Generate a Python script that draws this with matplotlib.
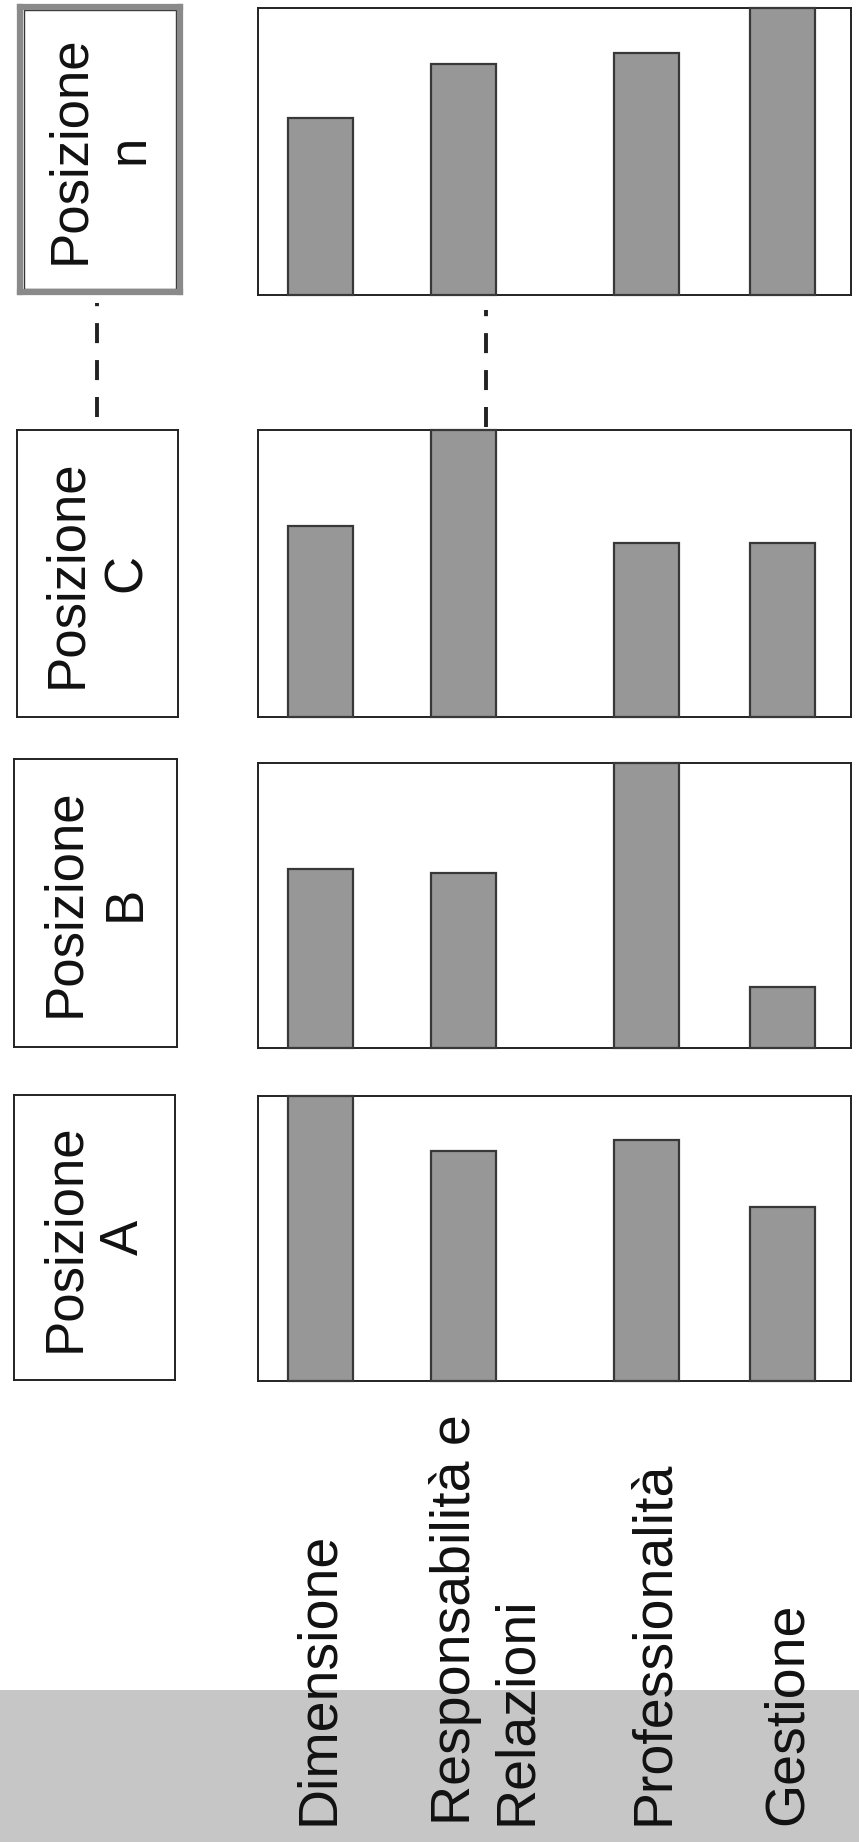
import matplotlib
matplotlib.use("Agg")
import matplotlib.pyplot as plt
from matplotlib.patches import Rectangle
from matplotlib.lines import Line2D

# ---------------- data ----------------
categories = ["Dimensione", "Responsabilità e\nRelazioni", "Professionalità", "Gestione"]
positions = ["Posizione\nA", "Posizione\nB", "Posizione\nC", "Posizione\nn"]
values_A = [1.00, 0.806, 0.845, 0.61]
values_B = [0.628, 0.614, 1.00, 0.214]
values_C = [0.665, 1.00, 0.606, 0.606]
values_n = [0.617, 0.805, 0.843, 1.00]
all_values = [values_A, values_B, values_C, values_n]

# ---------------- layout (pixels, from top-left) ----------------
W, H = 859, 1842
DPI = 100
plt.rcParams['font.family'] = ['Liberation Sans', 'DejaVu Sans']
plt.rcParams['lines.scale_dashes'] = False

fig = plt.figure(figsize=(W / DPI, H / DPI), dpi=DPI)
fig.patch.set_facecolor('white')


def fx(x):
    return x / W


def fy(y):
    return 1 - y / H


def add_ax(x0, y0, x1, y1, **kw):
    return fig.add_axes([fx(x0), fy(y1), (x1 - x0) / W, (y1 - y0) / H], **kw)


# panel rows (top, bottom) for A, B, C, n
panel_rows = [(1096, 1381), (763, 1048), (430, 717), (8, 295)]
header_boxes = [(14, 1095, 175, 1380), (14, 759, 177, 1047), (17, 430, 178, 717), (20, 7, 180, 292)]
panel_x = (258, 851)
bar_centers = [320, 463, 646, 782]
bar_width = 65
label_x = [319, 486, 654, 788]

bar_face = '#979797'
bar_edge = '#383838'

# gray strip at the bottom
strip = add_ax(0, 1690, W, H)
strip.set_xlim(0, 1)
strip.set_ylim(0, 1)
strip.axis('off')
strip.add_patch(Rectangle((0, 0), 1, 1, facecolor='#c6c6c6', edgecolor='none'))

# panels with bars
for (top, bot), vals in zip(panel_rows, all_values):
    ax = add_ax(panel_x[0], top, panel_x[1], bot)
    ax.set_xlim(panel_x[0], panel_x[1])
    ax.set_ylim(0, 1)
    ax.bar(bar_centers, vals, width=bar_width, color=bar_face,
           edgecolor=bar_edge, linewidth=1.6, zorder=3, clip_on=False)
    ax.set_xticks([])
    ax.set_yticks([])
    for s in ax.spines.values():
        s.set_color('#222222')
        s.set_linewidth(1.4)

# header boxes
for i, ((x0, y0, x1, y1), name) in enumerate(zip(header_boxes, positions)):
    hx = add_ax(x0, y0, x1, y1)
    hx.set_xticks([])
    hx.set_yticks([])
    hx.set_xlim(0, 1)
    hx.set_ylim(0, 1)
    if i == 3:
        for s in hx.spines.values():
            s.set_color('#8a8a8a')
            s.set_linewidth(4.5)
        hx.add_patch(Rectangle((0.025, 0.012), 0.95, 0.976, fill=False,
                               edgecolor='#333333', linewidth=1.0))
    else:
        for s in hx.spines.values():
            s.set_color('#222222')
            s.set_linewidth(1.4)
    hx.text(0.5, 0.5, name, rotation=90, ha='center', va='center',
            multialignment='center', fontsize=38, color='#111111',
            linespacing=1.25)

# category labels (rotated)
for lx, cat in zip(label_x, categories):
    fig.text(fx(lx), fy(1825), cat, rotation=90, ha='center', va='bottom',
             multialignment='left', fontsize=40, color='#111111',
             linespacing=1.2)

# dashed connectors between "Posizione C" and "Posizione n"
for x, ytop, ybot in [(97, 303, 417), (486, 310, 427)]:
    ln = Line2D([fx(x), fx(x)], [fy(ybot), fy(ytop)], transform=fig.transFigure,
                color='#222222', linewidth=2.8, solid_capstyle='butt',
                dash_capstyle='butt', linestyle=(0, (14.4, 12.2)))
    fig.add_artist(ln)

fig.savefig('out.png', dpi=DPI, facecolor='white')
